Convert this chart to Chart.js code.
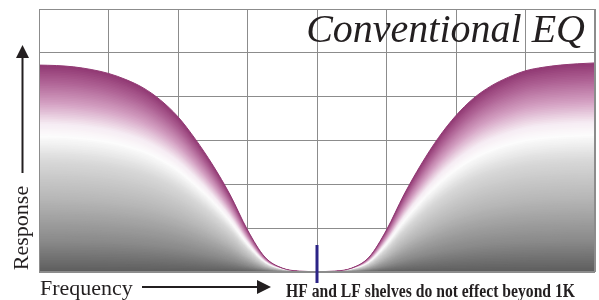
<!DOCTYPE html>
<html>
<head>
<meta charset="utf-8">
<title>Conventional EQ</title>
<script src="https://cdn.jsdelivr.net/npm/chart.js@4.4.1/dist/chart.umd.min.js"></script>
<style>
  html, body { margin: 0; padding: 0; background: #fff; }
  #wrap { width: 599px; height: 300px; position: relative; }
</style>
</head>
<body>
<div id="wrap"><canvas id="eqChart"></canvas></div>
<script>
// Frequency positions (grid columns 0..8) and response heights (grid rows 0..6)
const frequencySteps = [0, 0.25, 0.5, 0.75, 1, 1.25, 1.5, 1.75, 2, 2.25, 2.5, 2.75, 3, 3.25, 3.5, 3.75,
    4, 4.25, 4.5, 4.75, 5, 5.25, 5.5, 5.75, 6, 6.25, 6.5, 6.75, 7, 7.25, 7.5, 7.75, 8];
const responseLevels = [4.72, 4.71, 4.68, 4.62, 4.53, 4.39, 4.20, 3.92, 3.54, 3.03, 2.44, 1.76, 0.96, 0.34, 0.09, 0.02,
    0.01, 0.02, 0.09, 0.34, 0.96, 1.76, 2.46, 3.07, 3.57, 3.96, 4.24, 4.44, 4.59, 4.67, 4.72, 4.75, 4.77];
const markerFrequency = 4; // 1K

const titleText = 'Conventional EQ';
const xAxisLabel = 'Frequency';
const yAxisLabel = 'Response';
const noteText = 'HF and LF shelves do not effect beyond 1K';

const gridColor = '#8c8c8c';
const textColor = '#231f20';

// Colour of each shading layer, by fraction of the curve height
const shadeStops = [
    [1.00, [146, 58, 116]],
    [0.92, [176, 100, 150]],
    [0.82, [212, 160, 194]],
    [0.72, [246, 236, 243]],
    [0.66, [252, 252, 252]],
    [0.54, [216, 216, 216]],
    [0.35, [181, 181, 181]],
    [0.155, [138, 138, 138]],
    [0.034, [102, 102, 102]],
    [0.00, [92, 92, 92]]
];

function shadeColor(k) {
    for (let i = 1; i < shadeStops.length; i++) {
        const hi = shadeStops[i - 1], lo = shadeStops[i];
        if (k >= lo[0]) {
            const t = (k - lo[0]) / (hi[0] - lo[0]);
            const c = lo[1].map((v, j) => Math.round(v + (hi[1][j] - v) * t));
            return `rgb(${c[0]},${c[1]},${c[2]})`;
        }
    }
    return 'rgb(92,92,92)';
}

// Fill under the curve with scaled copies of it, purple -> white -> grey
const shadingPlugin = {
    id: 'eqShading',
    beforeDatasetsDraw(chart) {
        const meta = chart.getDatasetMeta(0);
        meta.dataset.updateControlPoints(chart.chartArea, meta.iScale.axis);
        const pts = meta.data;
        const base = chart.scales.y.getPixelForValue(0);
        const ctx = chart.ctx;
        const area = chart.chartArea;
        ctx.save();
        ctx.beginPath();
        ctx.rect(area.left, area.top, area.right - area.left, area.bottom - area.top);
        ctx.clip();
        const steps = 120;
        for (let s = 0; s < steps; s++) {
            const k = 1 - s / steps;
            const sy = y => base + (y - base) * k;
            ctx.fillStyle = shadeColor(k);
            ctx.beginPath();
            ctx.moveTo(pts[0].x, base);
            ctx.lineTo(pts[0].x, sy(pts[0].y));
            for (let i = 1; i < pts.length; i++) {
                const p0 = pts[i - 1], p = pts[i];
                if (p0.cp2x !== undefined && p.cp1x !== undefined) {
                    ctx.bezierCurveTo(p0.cp2x, sy(p0.cp2y), p.cp1x, sy(p.cp1y), p.x, sy(p.y));
                } else {
                    ctx.lineTo(p.x, sy(p.y));
                }
            }
            ctx.lineTo(pts[pts.length - 1].x, base);
            ctx.closePath();
            ctx.fill();
        }
        ctx.restore();
    }
};

function drawArrow(ctx, x1, y1, x2, y2, head) {
    const ang = Math.atan2(y2 - y1, x2 - x1);
    const bx = x2 - Math.cos(ang) * head, by = y2 - Math.sin(ang) * head;
    ctx.beginPath();
    ctx.moveTo(x1, y1);
    ctx.lineTo(bx, by);
    ctx.stroke();
    ctx.beginPath();
    ctx.moveTo(x2, y2);
    ctx.lineTo(bx + Math.sin(ang) * head * 0.5, by - Math.cos(ang) * head * 0.5);
    ctx.lineTo(bx - Math.sin(ang) * head * 0.5, by + Math.cos(ang) * head * 0.5);
    ctx.closePath();
    ctx.fill();
}

// Frame, marker, title, axis labels and note
const labelsPlugin = {
    id: 'eqLabels',
    afterDraw(chart) {
        const ctx = chart.ctx;
        const area = chart.chartArea;
        ctx.save();

        ctx.strokeStyle = gridColor;
        ctx.lineWidth = 1;
        ctx.strokeRect(Math.round(area.left) + 0.5, Math.round(area.top) + 0.5,
            Math.round(area.right - area.left) - 1, Math.round(area.bottom - area.top) - 1);

        // 1K marker
        const mx = chart.scales.x.getPixelForValue(markerFrequency);
        ctx.strokeStyle = '#2b2386';
        ctx.lineWidth = 3;
        ctx.beginPath();
        ctx.moveTo(mx, 245);
        ctx.lineTo(mx, 283);
        ctx.stroke();

        ctx.fillStyle = textColor;
        ctx.strokeStyle = textColor;

        ctx.font = 'italic 40px "Liberation Serif"';
        ctx.textAlign = 'right';
        ctx.textBaseline = 'alphabetic';
        ctx.fillText(titleText, 585, 42);

        ctx.font = '22px "Liberation Serif"';
        ctx.textAlign = 'left';
        ctx.fillText(xAxisLabel, 40, 295);

        ctx.save();
        ctx.translate(28, 228);
        ctx.rotate(-Math.PI / 2);
        ctx.textAlign = 'center';
        ctx.fillText(yAxisLabel, 0, 0);
        ctx.restore();

        ctx.lineWidth = 2;
        drawArrow(ctx, 142, 287, 271, 287, 14);
        drawArrow(ctx, 22.5, 173, 22.5, 45, 13);

        // condensed bold note
        ctx.font = 'bold 18px "Liberation Serif"';
        const w = ctx.measureText(noteText).width;
        ctx.save();
        ctx.translate(286, 297);
        ctx.scale(289 / w, 1);
        ctx.textAlign = 'left';
        ctx.fillText(noteText, 0, 0);
        ctx.restore();

        ctx.restore();
    }
};

function initEqChart() {
    const ctx = document.getElementById('eqChart');
    return new Chart(ctx, {
        type: 'line',
        data: {
            labels: frequencySteps,
            datasets: [{
                data: frequencySteps.map((f, i) => ({ x: f, y: responseLevels[i] })),
                borderColor: 'rgb(146,58,116)',
                borderWidth: 1,
                pointRadius: 0,
                fill: false,
                tension: 0.4,
                cubicInterpolationMode: 'monotone'
            }]
        },
        options: {
            responsive: true,
            maintainAspectRatio: false,
            animation: false,
            layout: {
                padding: { left: 39, right: 4, top: 9, bottom: 28 }
            },
            scales: {
                x: {
                    type: 'linear',
                    min: 0,
                    max: 8,
                    ticks: { display: false, stepSize: 1 },
                    grid: { color: gridColor, drawTicks: false },
                    border: { display: false }
                },
                y: {
                    min: 0,
                    max: 6,
                    ticks: { display: false, stepSize: 1 },
                    grid: { color: gridColor, drawTicks: false },
                    border: { display: false }
                }
            },
            plugins: {
                legend: { display: false },
                tooltip: { enabled: false }
            }
        },
        plugins: [shadingPlugin, labelsPlugin]
    });
}

document.addEventListener('DOMContentLoaded', initEqChart);
</script>
</body>
</html>
